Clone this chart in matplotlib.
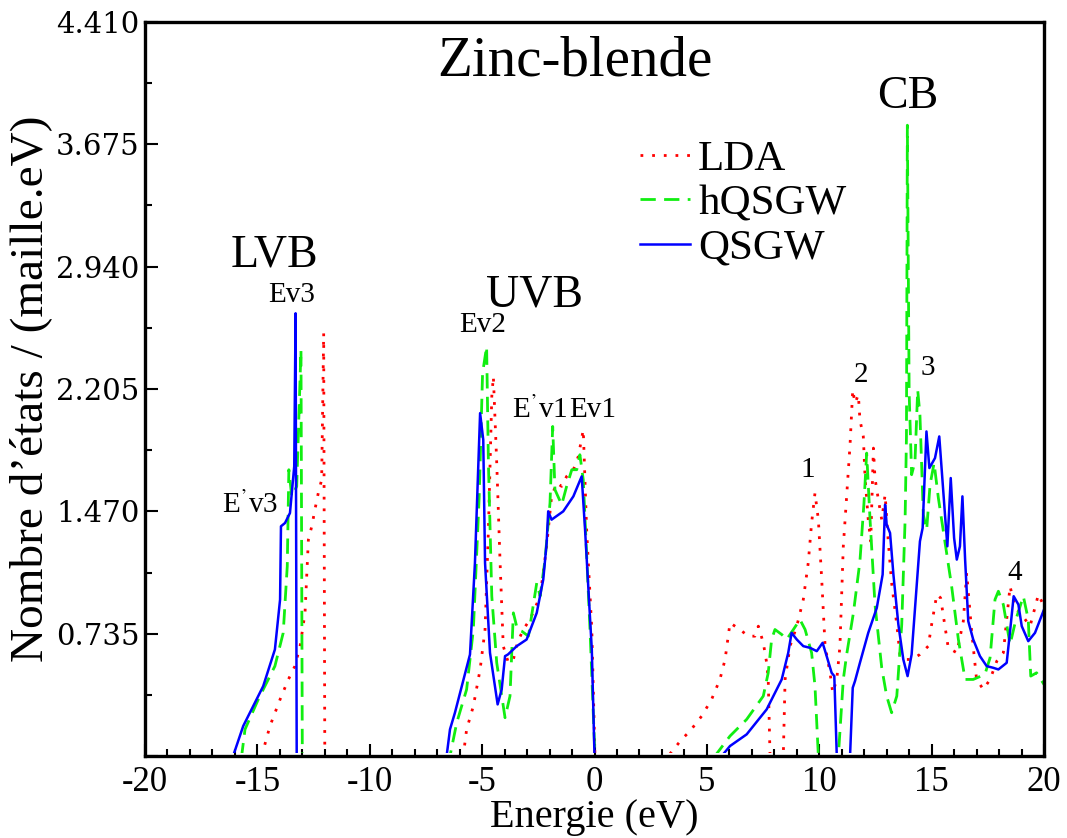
import matplotlib
matplotlib.use("Agg")
import matplotlib.pyplot as plt
from matplotlib.ticker import MultipleLocator, FixedLocator, FuncFormatter
from matplotlib.patches import Rectangle
import numpy as np

# ---------------- data ----------------
qsgw_x = [-20, -16.08, -15.63, -14.74, -14.22, -13.99, -13.95, -13.77, -13.55, -13.36, -13.30, -13.25,
          -6.58, -6.43, -6.21, -5.54, -5.32, -5.09, -4.95, -4.87, -4.65, -4.31, -4.13, -3.98, -3.85,
          -3.46, -3.02, -2.57, -2.28, -2.13, -2.06, -1.91, -1.39, -0.94, -0.57, -0.42, -0.12, 0.0,
          5.66, 6.03, 6.77, 7.66, 8.33, 8.62, 8.77, 9.00, 9.29, 9.59, 9.89, 10.15, 10.33, 10.55, 10.67,
          10.78, 11.37, 11.49, 11.59, 11.81, 12.18, 12.56, 12.82, 12.93, 13.0, 13.15, 13.30, 13.52,
          13.74, 13.93, 14.11, 14.48, 14.60, 14.77, 14.90, 15.15, 15.34, 15.60, 15.70, 15.85, 16.0,
          16.12, 16.26, 16.37, 16.49, 16.63, 16.85, 17.15, 17.45, 17.74, 17.97, 18.34, 18.49, 18.65,
          18.86, 19.01, 19.30, 19.60, 20.0]
qsgw_y = [0, 0, 0.18, 0.42, 0.64, 0.94, 1.38, 1.40, 1.46, 1.74, 2.66, 0,
          0, 0.16, 0.26, 0.61, 1.16, 2.06, 1.90, 1.16, 0.62, 0.31, 0.40, 0.60, 0.61,
          0.66, 0.70, 0.86, 1.06, 1.28, 1.47, 1.42, 1.47, 1.56, 1.68, 1.36, 0.64, 0,
          0, 0.06, 0.13, 0.28, 0.46, 0.62, 0.74, 0.70, 0.66, 0.65, 0.63, 0.68, 0.60, 0.50, 0.48,
          0, 0, 0.41, 0.45, 0.56, 0.74, 0.89, 1.09, 1.51, 1.39, 1.34, 1.09, 0.79,
          0.58, 0.48, 0.61, 1.29, 1.37, 1.95, 1.73, 1.79, 1.92, 1.44, 1.26, 1.67, 1.31,
          1.18, 1.26, 1.56, 1.18, 0.81, 0.70, 0.60, 0.54, 0.53, 0.52, 0.56, 0.75, 0.96,
          0.91, 0.78, 0.69, 0.74, 0.88]

hqsgw_x = [-20, -15.70, -15.55, -14.96, -14.22, -13.85, -13.67, -13.60, -13.47, -13.25, -13.06, -13.00,
           -6.43, -6.13, -5.69, -5.39, -5.13, -4.98, -4.80, -4.72, -4.57, -4.35, -3.98, -3.76, -3.61,
           -3.43, -3.24, -2.94, -2.57, -2.42, -2.20, -1.98, -1.86, -1.76, -1.46, -1.24, -1.01, -0.79,
           -0.65, -0.50, -0.20, 0.02,
           5.36, 6.03, 6.77, 7.51, 7.73, 7.88, 8.03, 8.33, 8.55, 8.85, 9.14, 9.37, 9.66, 9.81, 9.96,
           10.85, 11.07, 11.22, 11.52, 11.81, 11.99, 12.11, 12.26, 12.48, 12.78, 13.0, 13.22, 13.45,
           13.67, 13.82, 13.88, 13.92, 14.00, 14.11, 14.26, 14.38, 14.48, 14.63, 14.78, 14.93, 15.11,
           15.30, 15.60, 15.89, 16.19, 16.49, 16.85, 17.37, 17.60, 17.82, 17.97, 18.19, 18.49, 18.75,
           19.08, 19.30, 19.41, 19.67, 20.0]
hqsgw_y = [0, 0, 0.16, 0.34, 0.54, 0.74, 1.14, 1.72, 1.56, 1.62, 2.44, 0,
           0, 0.20, 0.40, 0.76, 1.56, 2.30, 2.46, 1.76, 0.96, 0.56, 0.23, 0.36, 0.86,
           0.76, 0.75, 0.72, 1.04, 0.96, 1.18, 1.52, 1.98, 1.60, 1.51, 1.62, 1.72, 1.72,
           1.81, 1.66, 0.76, 0,
           0, 0.12, 0.22, 0.36, 0.50, 0.70, 0.76, 0.73, 0.70, 0.76, 0.82, 0.76, 0.62, 0.42, 0,
           0, 0.46, 0.61, 0.86, 1.17, 1.52, 1.82, 1.42, 0.91, 0.53, 0.36, 0.26, 0.36,
           0.79, 1.42, 1.92, 3.79, 2.18, 1.69, 1.77, 2.20, 2.05, 1.45, 1.36, 1.63, 1.76,
           1.55, 1.28, 1.02, 0.70, 0.46, 0.46, 0.49, 0.59, 0.94, 0.99, 0.91, 0.67, 0.82,
           0.96, 0.82, 0.48, 0.50, 0.43]

lda_x = [-20, -14.81, -14.44, -13.99, -13.62, -13.33, -13.10, -12.88, -12.73, -12.58, -12.44, -12.29,
         -12.14, -12.05, -12.00,
         -5.84, -5.69, -5.39, -5.09, -4.87, -4.72, -4.57, -4.50, -4.35, -4.20, -4.06, -3.83, -3.61,
         -3.43, -3.17, -2.87, -2.42, -2.13, -1.91, -1.68, -1.46, -1.24, -0.94, -0.72, -0.50, -0.35,
         -0.12, 0.02,
         3.28, 3.88, 4.25, 4.77, 5.21, 5.58, 5.81, 6.03, 6.47, 6.84, 7.14, 7.29, 7.51, 7.66, 7.73,
         7.81, 8.40, 8.48, 8.70, 9.00, 9.29, 9.51, 9.66, 9.81, 9.96, 10.11, 10.26, 10.48, 10.60,
         10.78, 10.92, 11.07, 11.15, 11.37, 11.49, 11.59, 11.74, 11.81, 11.96, 12.04, 12.18, 12.29,
         12.41, 12.48, 12.63, 12.78, 12.93, 13.07, 13.22, 13.45, 13.59, 13.74, 14.11, 14.48, 14.85,
         15.00, 15.23, 15.40, 15.74, 16.12, 16.41, 16.56, 16.78, 17.00, 17.30, 17.60, 17.90, 18.19,
         18.49, 18.71, 19.00, 19.38, 19.75, 20.0]
lda_y = [0, 0, 0.18, 0.34, 0.46, 0.54, 0.66, 0.86, 1.30, 1.38, 1.48, 1.58,
         1.66, 2.54, 0,
         0, 0.16, 0.30, 0.52, 0.76, 1.36, 2.16, 2.28, 1.76, 1.16, 0.66, 0.56, 0.58,
         0.68, 0.76, 0.82, 0.96, 1.26, 1.56, 1.64, 1.62, 1.68, 1.72, 1.80, 1.96, 1.36,
         0.76, 0,
         0, 0.10, 0.15, 0.24, 0.34, 0.46, 0.58, 0.80, 0.76, 0.72, 0.72, 0.78, 0.68, 0.56, 0.46,
         0, 0, 0.46, 0.66, 0.78, 0.94, 1.16, 1.40, 1.58, 1.42, 1.06, 0.66, 0.50, 0.38,
         0.46, 0.66, 1.26, 1.42, 1.87, 2.20, 2.12, 2.17, 2.02, 1.92, 1.67, 1.42, 1.29,
         1.85, 1.67, 1.54, 1.42, 1.57, 1.29, 1.04, 0.79, 0.61, 0.58, 0.58, 0.61, 0.66,
         0.79, 0.97, 0.95, 0.65, 0.62, 0.81, 1.10, 0.75, 0.46, 0.40, 0.46, 0.57, 0.62,
         1.02, 0.89, 0.85, 0.78, 0.97, 0.90]

series_labels = ["LDA", "hQSGW", "QSGW"]
y_ticks = [0.735, 1.470, 2.205, 2.940, 3.675, 4.410]
x_ticks = [-20, -15, -10, -5, 0, 5, 10, 15, 20]

# ---------------- style ----------------
plt.rcParams['font.family'] = ['Liberation Serif', 'DejaVu Serif']
plt.rcParams['axes.unicode_minus'] = False
plt.rcParams['mathtext.fontset'] = 'stix'

fig = plt.figure(figsize=(10.67, 8.38), dpi=100)
ax = fig.add_axes([145/1067, 1-756/838, (1044-145)/1067, (756-22)/838])

l1, = ax.plot(lda_x, lda_y, color='#ff0000', lw=2.0, linestyle=(0, (1, 3.2)), label=series_labels[0])
l2, = ax.plot(hqsgw_x, hqsgw_y, color='#11ee11', lw=2.0, linestyle=(0, (5.5, 3)), label=series_labels[1])
l3, = ax.plot(qsgw_x, qsgw_y, color='#0000ff', lw=1.8, linestyle='-', label=series_labels[2])

ax.set_xlim(-20, 20)
ax.set_ylim(0, 4.41)

# hide the parts of the curves lying on the baseline (covered by the axis in the original)
clip_rect = Rectangle((-20, 0.02), 40, 5, transform=ax.transData, fill=False, visible=False)
ax.add_patch(clip_rect)
for ln in (l1, l2, l3):
    ln.set_clip_path(clip_rect)

ax.xaxis.set_major_locator(FixedLocator(x_ticks))
ax.xaxis.set_minor_locator(MultipleLocator(1))
ax.yaxis.set_major_locator(FixedLocator([0] + y_ticks))
ax.yaxis.set_minor_locator(FixedLocator([0.3675 + 0.735 * i for i in range(6)]))
ax.yaxis.set_major_formatter(FuncFormatter(lambda v, p: "" if v == 0 else f"{v:.3f}"))

ax.tick_params(which='both', direction='in', top=False, right=False, width=1.5)
ax.tick_params(which='major', length=9)
ax.tick_params(which='minor', length=5)
ax.tick_params(axis='x', labelsize=25, pad=7)
ax.tick_params(axis='y', labelsize=21, pad=4)
for lab in ax.get_yticklabels():
    lab.set_family('DejaVu Serif')
for s in ax.spines.values():
    s.set_linewidth(2.4)
    s.set_zorder(5)

ax.set_xlabel("Energie (eV)", fontsize=29, labelpad=0)
ax.set_ylabel("Nombre d\u2019\u00e9tats / (maille.eV)", fontsize=34, labelpad=3)

ax.text(-0.87, 4.17, "Zinc-blende", fontsize=41, ha='center', va='center')
ax.text(-14.22, 3.01, "LVB", fontsize=33, ha='center', va='center')
ax.text(-2.65, 2.77, "UVB", fontsize=33, ha='center', va='center')
ax.text(13.95, 3.96, "CB", fontsize=33, ha='center', va='center')

small = 21
ax.text(-13.46, 2.77, "Ev3", fontsize=small, ha='center', va='center')
ax.text(-15.33, 1.51, "E$^{\u2019}$v3", fontsize=small, ha='center', va='center')
ax.text(-5.0, 2.59, "Ev2", fontsize=small, ha='center', va='center')
ax.text(-2.43, 2.08, "E$^{\u2019}$v1", fontsize=small, ha='center', va='center')
ax.text(-0.07, 2.08, "Ev1", fontsize=small, ha='center', va='center')
ax.text(9.50, 1.72, "1", fontsize=small, ha='center', va='center')
ax.text(11.86, 2.29, "2", fontsize=small, ha='center', va='center')
ax.text(14.84, 2.33, "3", fontsize=small, ha='center', va='center')
ax.text(18.71, 1.10, "4", fontsize=small, ha='center', va='center')

ax.legend(loc='upper left', bbox_to_anchor=((640-145)/899, (756-140)/734), frameon=False,
          fontsize=31, handlelength=1.15, handletextpad=0.2, labelspacing=0.12, borderpad=0,
          borderaxespad=0)

fig.savefig("out.png", dpi=100)
